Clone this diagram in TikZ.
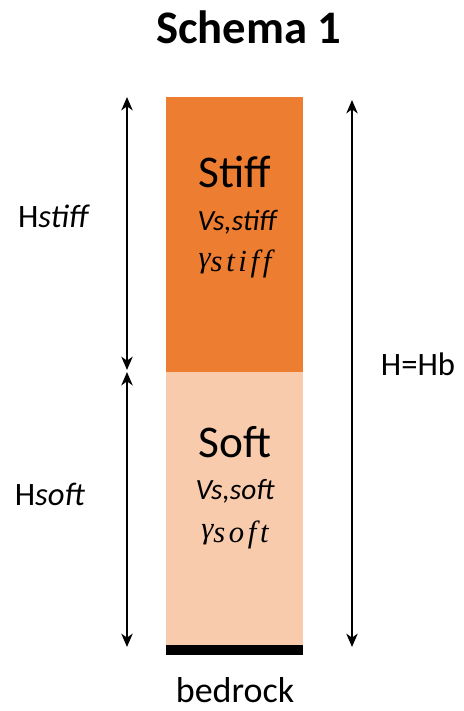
\documentclass[tikz,border=0pt]{standalone}
\usepackage{fontspec}
\setmainfont{Carlito}
\newfontfamily\gfont{Liberation Serif}
\usetikzlibrary{arrows.meta}
\definecolor{stiffc}{HTML}{ED7D31}
\definecolor{softc}{HTML}{F8CBAD}
\newcommand{\gsub}[1]{{\gfont\itshape γ\raisebox{-3pt}{\addfontfeatures{LetterSpace=12}#1}}}
\begin{document}
\begin{tikzpicture}[x=0.75pt,y=-0.75pt,
  tip/.tip={Stealth[length=10pt,width=8.5pt,inset=3pt]},
  dim/.style={line width=1.4pt,{tip}-{tip}},
  lbl/.style={anchor=base,inner sep=0pt},
  layer/.style={inner sep=0pt,minimum width=102.75pt,draw=none},
  big/.style={lbl,font=\fontsize{34}{40}\selectfont},
  mid/.style={lbl,font=\fontsize{22}{26}\selectfont\itshape},
  side/.style={lbl,font=\fontsize{24.5}{29}\selectfont}]
\useasboundingbox (0,0) rectangle (464,711);
\node[lbl,font=\fontsize{35}{42}\selectfont\bfseries] (title) at (249,43) {Schema 1};
\node[layer,fill=stiffc,minimum height=206.25pt] (stiff) at (234.5,234.5) {};
\node[layer,fill=softc,minimum height=204.75pt] (soft) at (234.5,508.5) {};
\node[layer,fill=black,minimum height=7.5pt] (bed) at (234.5,650) {};
\node[big] (tstiff) at (235,187) {Stiff};
\node[mid] (vstiff) at (237,230) {Vs,stiff};
\node[lbl,font=\fontsize{23}{27}\selectfont] (gstiff) at (235,267) {\gsub{stiff}};
\node[big] (tsoft) at (235,457) {Soft};
\node[mid] (vsoft) at (235,499) {Vs,soft};
\node[lbl,font=\fontsize{23}{27}\selectfont] (gsoft) at (235,538) {\gsub{soft}};
\node[side] (hstiff) at (54,227) {H\textit{stiff}};
\node[side] (hsoft) at (50,505) {H\textit{soft}};
\node[side] (hb) at (418,375) {H=Hb};
\node[lbl,font=\fontsize{27}{32}\selectfont] (bedrock) at (235,702) {bedrock};
\coordinate (a1) at (127,97);
\coordinate (a2) at (127,370);
\coordinate (a3) at (127,372);
\coordinate (a4) at (127,647);
\coordinate (b1) at (352,100);
\coordinate (b2) at (352,647);
\draw[dim] (a1) -- (a2);
\draw[dim] (a3) -- (a4);
\draw[dim] (b1) -- (b2);
\end{tikzpicture}
\end{document}
